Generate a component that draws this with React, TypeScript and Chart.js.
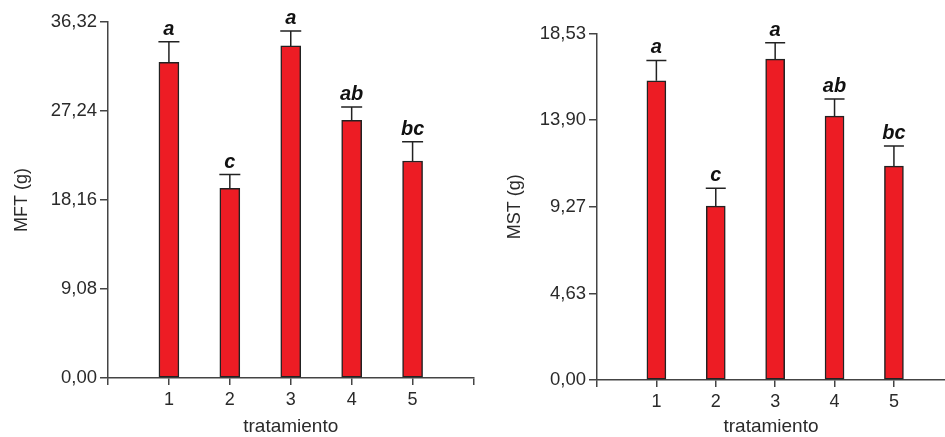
import React, { useEffect, useRef } from 'react';
import { Chart, registerables } from 'chart.js';

Chart.register(...registerables);

// ---- data ----
const categories = [1, 2, 3, 4, 5];
const xAxisTitle = 'tratamiento';

const mftTitle = 'MFT (g)';
const mftMeans = [32.2, 19.36, 33.88, 26.3, 22.14];
const mftErrors = [2.1, 1.39, 1.52, 1.35, 1.96];
const mftLetters = ['a', 'c', 'a', 'ab', 'bc'];
const mftTicks = [0, 9.08, 18.16, 27.24, 36.32];

const mstTitle = 'MST (g)';
const mstMeans = [16.0, 9.3, 17.16, 14.11, 11.44];
const mstErrors = [1.09, 0.95, 0.87, 0.92, 1.08];
const mstLetters = ['a', 'c', 'a', 'ab', 'bc'];
const mstTicks = [0, 4.63, 9.27, 13.9, 18.53];

const FONT = '"Liberation Sans", Arial, sans-serif';
const AXIS = '#444';
const TEXT = '#2a2a2a';

const errPlugin = {
  id: 'errbars',
  afterDatasetsDraw(chart: any, _args: any, opts: any) {
    const { ctx } = chart;
    const meta = chart.getDatasetMeta(0);
    const ys = chart.scales.y;
    ctx.save();
    meta.data.forEach((bar: any, i: number) => {
      const x = bar.x;
      const yTop = bar.y;
      const yErr = ys.getPixelForValue(opts.means[i] + opts.errors[i]);
      const half = opts.capWidth / 2;
      ctx.strokeStyle = '#222';
      ctx.lineWidth = 1.5;
      ctx.beginPath();
      ctx.moveTo(x, yTop);
      ctx.lineTo(x, yErr);
      ctx.moveTo(x - half, yErr);
      ctx.lineTo(x + half, yErr);
      ctx.stroke();
      ctx.fillStyle = '#111';
      ctx.font = 'italic bold 20px ' + FONT;
      ctx.textAlign = 'center';
      ctx.textBaseline = 'alphabetic';
      ctx.fillText(opts.letters[i], x, yErr - 7);
    });
    ctx.restore();
  },
};

type PanelProps = {
  left: number;
  width: number;
  means: number[];
  errors: number[];
  letters: string[];
  ticks: number[];
  yTitle: string;
  xMax: number;
  barW: number;
  padTop: number;
  padRight: number;
  yWidth: number;
  xHeight: number;
  yTitlePad: number;
};

function BarPanel(p: PanelProps) {
  const ref = useRef<HTMLCanvasElement>(null);
  useEffect(() => {
    if (!ref.current) return;
    const xTickVals: number[] = [];
    for (let v = 0; v <= Math.floor(p.xMax); v++) xTickVals.push(v);
    const chart = new Chart(ref.current, {
      type: 'bar',
      data: {
        datasets: [
          {
            data: categories.map((c, i) => ({ x: c, y: p.means[i] })) as any,
            backgroundColor: '#ED1C24',
            borderColor: '#222',
            borderWidth: 1.5,
            borderSkipped: false,
            barThickness: p.barW,
          },
        ],
      },
      options: {
        animation: false,
        responsive: false,
        devicePixelRatio: 1,
        layout: { padding: { top: p.padTop, right: p.padRight, left: 0, bottom: 0 } },
        plugins: {
          legend: { display: false },
          tooltip: { enabled: false },
          errbars: { means: p.means, errors: p.errors, letters: p.letters, capWidth: p.barW + 1 },
        } as any,
        scales: {
          x: {
            type: 'linear',
            min: 0,
            max: p.xMax,
            offset: false,
            afterBuildTicks: (s: any) => {
              s.ticks = xTickVals.map((v) => ({ value: v }));
            },
            afterFit: (s: any) => {
              s.height = p.xHeight;
              s.paddingLeft = 0;
              s.paddingRight = 0;
            },
            ticks: {
              callback: (v: any) => (categories.includes(Number(v)) ? String(v) : ''),
              font: { family: FONT, size: 18 },
              color: TEXT,
              padding: 4,
              maxRotation: 0,
              autoSkip: false,
            },
            grid: {
              display: true,
              drawOnChartArea: false,
              drawTicks: true,
              tickLength: 7,
              color: AXIS,
              lineWidth: 1.5,
              offset: false,
            },
            border: { display: true, color: AXIS, width: 1.5 },
            title: {
              display: true,
              text: xAxisTitle,
              color: TEXT,
              font: { family: FONT, size: 19, lineHeight: 1 },
              padding: { top: 0, bottom: 1 },
            },
          } as any,
          y: {
            type: 'linear',
            min: 0,
            max: p.ticks[p.ticks.length - 1],
            afterBuildTicks: (s: any) => {
              s.ticks = p.ticks.map((v) => ({ value: v }));
            },
            afterFit: (s: any) => {
              s.width = p.yWidth;
              s.paddingTop = 0;
              s.paddingBottom = 0;
            },
            ticks: {
              callback: (v: any) => Number(v).toFixed(2).replace('.', ','),
              font: { family: FONT, size: 18.5 },
              color: TEXT,
              padding: 3,
            },
            grid: {
              display: true,
              drawOnChartArea: false,
              drawTicks: true,
              tickLength: 8,
              color: AXIS,
              lineWidth: 1.5,
            },
            border: { display: true, color: AXIS, width: 1.5 },
            title: {
              display: true,
              text: p.yTitle,
              color: TEXT,
              font: { family: FONT, size: 18, lineHeight: 1 },
              padding: { top: p.yTitlePad, bottom: 0 },
            },
          } as any,
        },
      },
      plugins: [errPlugin as any],
    });
    return () => chart.destroy();
  }, []);
  return (
    <canvas
      ref={ref}
      width={p.width}
      height={437}
      style={{ position: 'absolute', left: p.left, top: 0, width: p.width, height: 437 }}
    />
  );
}

export default function App() {
  return (
    <div style={{ position: 'absolute', left: 0, top: 0, width: 945, height: 437, background: '#fff', overflow: 'hidden' }}>
      <BarPanel
        left={0}
        width={480}
        means={mftMeans}
        errors={mftErrors}
        letters={mftLetters}
        ticks={mftTicks}
        yTitle={mftTitle}
        xMax={6}
        barW={20}
        padTop={22}
        padRight={6.5}
        yWidth={108}
        xHeight={59}
        yTitlePad={12.7}
      />
      <BarPanel
        left={475}
        width={470}
        means={mstMeans}
        errors={mstErrors}
        letters={mstLetters}
        ticks={mstTicks}
        yTitle={mstTitle}
        xMax={5.86}
        barW={19}
        padTop={33.5}
        padRight={0}
        yWidth={122}
        xHeight={57}
        yTitlePad={31}
      />
    </div>
  );
}
